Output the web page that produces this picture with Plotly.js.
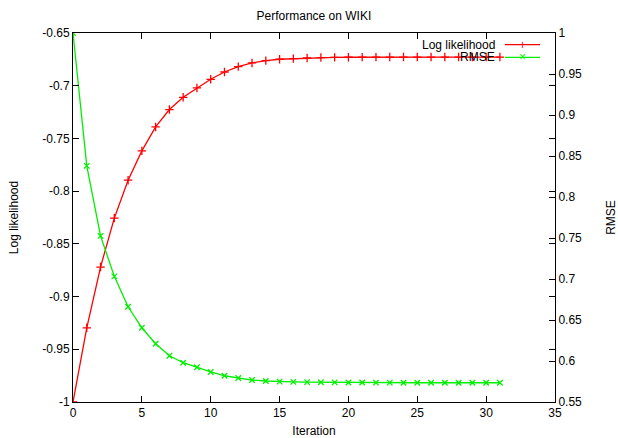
<!DOCTYPE html>
<html>
<head>
<meta charset="utf-8">
<script src="https://cdn.plot.ly/plotly-3.0.1.min.js"></script>
<style>html,body{margin:0;padding:0;background:#fff;}#chart{width:618px;height:438px;}</style>
</head>
<body>
<div id="chart"></div>
<script>
const iterations = [0,1,2,3,4,5,6,7,8,9,10,11,12,13,14,15,16,17,18,19,20,21,22,23,24,25,26,27,28,29,30,31];
const logLikelihood = [-1.0,-0.9296,-0.872,-0.8256,-0.7896,-0.7618,-0.7391,-0.7226,-0.711,-0.7021,-0.6939,-0.687,-0.6819,-0.6784,-0.6762,-0.6749,-0.6743,-0.6737,-0.6733,-0.6731,-0.673,-0.6729,-0.6729,-0.6728,-0.6728,-0.6728,-0.6728,-0.6728,-0.6728,-0.6728,-0.6728,-0.6728];
const rmse = [1.0,0.838,0.7526,0.7032,0.6661,0.6405,0.621,0.6064,0.5979,0.5923,0.5866,0.582,0.5793,0.5768,0.5756,0.5748,0.5745,0.5742,0.574,0.5739,0.5738,0.5737,0.5736,0.5736,0.5735,0.5735,0.5735,0.5735,0.5735,0.5735,0.5735,0.5735];
const xTicks = [0,5,10,15,20,25,30,35];
const yTicks = [-1,-0.95,-0.9,-0.85,-0.8,-0.75,-0.7,-0.65];
const yTickText = ["-1","-0.95","-0.9","-0.85","-0.8","-0.75","-0.7","-0.65"];
const y2Ticks = [0.55,0.6,0.65,0.7,0.75,0.8,0.85,0.9,0.95,1];
const y2TickText = ["0.55","0.6","0.65","0.7","0.75","0.8","0.85","0.9","0.95","1"];
const seriesNames = ["Log likelihood","RMSE"];
const colors = ["#ff0000","#00ee00"];

const font = {family: "Liberation Sans, Arial, sans-serif", size: 12, color: "#000"};

const traces = [
  {x: iterations, y: logLikelihood, type: "scatter", mode: "lines+markers", name: seriesNames[0],
   line: {color: colors[0], width: 1.3}, marker: {symbol: "cross-thin", size: 6, color: colors[0], line: {color: colors[0], width: 1.3}},
   yaxis: "y", showlegend: false},
  {x: iterations, y: rmse, type: "scatter", mode: "lines+markers", name: seriesNames[1],
   line: {color: colors[1], width: 1.3}, marker: {symbol: "x-thin", size: 5.5, color: colors[1], line: {color: colors[1], width: 1.3}},
   yaxis: "y2", showlegend: false}
];

const axisCommon = {showgrid: false, zeroline: false, showline: true, linecolor: "#000", linewidth: 1,
  ticks: "inside", ticklen: 6, tickcolor: "#000", tickwidth: 1, tickfont: font};

const layout = {
  width: 618, height: 438,
  margin: {l: 73, r: 63, t: 33, b: 36, pad: 0},
  paper_bgcolor: "#fff", plot_bgcolor: "#fff",
  font: font,
  title: {text: "Performance on WIKI", font: font, x: 0.508, xanchor: "center", y: 0.963, yanchor: "middle"},
  xaxis: Object.assign({}, axisCommon, {range: [0, 35], tickvals: xTicks, ticktext: xTicks.map(String), mirror: "ticks",
    title: {text: "Iteration", font: font, standoff: 9}}),
  yaxis: Object.assign({}, axisCommon, {range: [-1, -0.65], tickvals: yTicks, ticktext: yTickText, mirror: "ticks",
    title: {text: "Log likelihood", font: font, standoff: 21}}),
  yaxis2: Object.assign({}, axisCommon, {range: [0.55, 1], tickvals: y2Ticks, ticktext: y2TickText, overlaying: "y", side: "right",
    title: {text: "RMSE", font: font, standoff: 26}}),
  showlegend: false,
  shapes: [
    {type: "line", xref: "paper", yref: "paper", x0: 0.896, x1: 0.969, y0: 0.9686, y1: 0.9686, line: {color: colors[0], width: 1.3}},
    {type: "line", xref: "paper", yref: "paper", x0: 0.896, x1: 0.969, y0: 0.934, y1: 0.934, line: {color: colors[1], width: 1.3}}
  ],
  annotations: [
    {xref: "paper", yref: "paper", x: 0.8797, y: 0.9686, xanchor: "right", yanchor: "middle", text: seriesNames[0], showarrow: false, font: font},
    {xref: "paper", yref: "paper", x: 0.8797, y: 0.934, xanchor: "right", yanchor: "middle", text: seriesNames[1], showarrow: false, font: font},
    {xref: "paper", yref: "paper", x: 0.9326, y: 0.9686, xanchor: "center", yanchor: "middle", text: "+", showarrow: false, font: {family: font.family, size: 12, color: colors[0]}},
    {xref: "paper", yref: "paper", x: 0.9326, y: 0.934, xanchor: "center", yanchor: "middle", text: "×", showarrow: false, font: {family: font.family, size: 12, color: colors[1]}}
  ]
};

Plotly.newPlot("chart", traces, layout, {displayModeBar: false, staticPlot: true});
</script>
</body>
</html>
